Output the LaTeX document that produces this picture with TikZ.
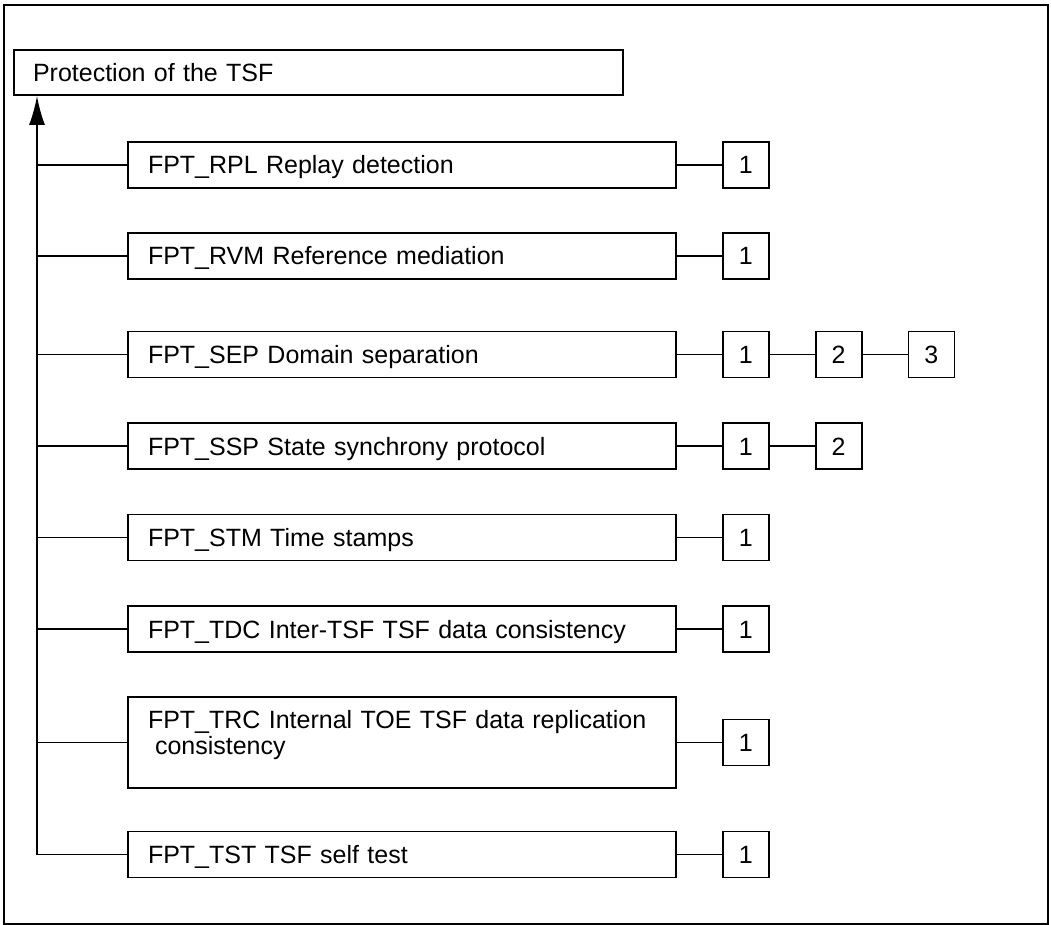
\documentclass[tikz,border=0pt]{standalone}
\usepackage{fontspec}
\setmainfont{Liberation Sans}
\usetikzlibrary{arrows.meta,positioning}

\begin{document}
\begin{tikzpicture}[x=1pt,y=-1pt,>={Latex[length=29pt,width=16pt]},line width=1.8pt,
  every node/.style={font=\fontsize{25}{26}\selectfont},
  fambox/.style={draw,align=left,text width=508pt,inner xsep=20pt,inner ysep=0pt,
    minimum height=46pt,text height=18pt,text depth=0pt},
  cmpbox/.style={draw,minimum size=46pt,inner sep=0pt,text height=18pt,text depth=0pt}]
  \useasboundingbox (0,0) rectangle (1051,925);
  \draw[line width=2.2pt] (4,5) rectangle (1048,924);

  % class and its families
  \node[fambox,text width=571pt,inner xsep=19pt,minimum height=45pt] (tsf) at (318.5,72.5) {Protection of the TSF};
  \coordinate (spine) at (37,0);

  \node[fambox] (rpl) at (402,165) {FPT\_RPL Replay detection};
  \node[fambox] (rvm) at (402,256) {FPT\_RVM Reference mediation};
  \node[fambox] (sep) at (402,354.5) {FPT\_SEP Domain separation};
  \node[fambox] (ssp) at (402,446) {FPT\_SSP State synchrony protocol};
  \node[fambox] (stm) at (402,537.5) {FPT\_STM Time stamps};
  \node[fambox] (tdc) at (402,629) {FPT\_TDC Inter-TSF TSF data consistency};
  \node[fambox,minimum height=91pt,text depth=47pt] (trc) at (402,742.5)
    {FPT\_TRC Internal TOE TSF data replication\\\hspace*{0.28em}consistency};
  \node[fambox] (tst) at (402,854.5) {FPT\_TST TSF self test};

  % components
  \node[cmpbox,right=45pt of rpl] (rpl1) {1};
  \node[cmpbox,right=45pt of rvm] (rvm1) {1};
  \node[cmpbox,right=45pt of sep] (sep1) {1};
  \node[cmpbox,right=45pt of sep1] (sep2) {2};
  \node[cmpbox,right=45pt of sep2] (sep3) {3};
  \node[cmpbox,right=45pt of ssp] (ssp1) {1};
  \node[cmpbox,right=45pt of ssp1] (ssp2) {2};
  \node[cmpbox,right=45pt of stm] (stm1) {1};
  \node[cmpbox,right=45pt of tdc] (tdc1) {1};
  \node[cmpbox,right=45pt of trc] (trc1) {1};
  \node[cmpbox,right=45pt of tst] (tst1) {1};

  % connectors
  \draw[->] (tst.west) -- (tst.west -| spine) -- (tsf.south -| spine);
  \foreach \f in {rpl,rvm,sep,ssp,stm,tdc,trc}
    \draw (\f.west -| spine) -- (\f.west);
  \foreach \a/\b in {rpl/rpl1,rvm/rvm1,sep/sep1,sep1/sep2,sep2/sep3,ssp/ssp1,ssp1/ssp2,
                     stm/stm1,tdc/tdc1,trc/trc1,tst/tst1}
    \draw (\a) -- (\b);
\end{tikzpicture}
\end{document}
